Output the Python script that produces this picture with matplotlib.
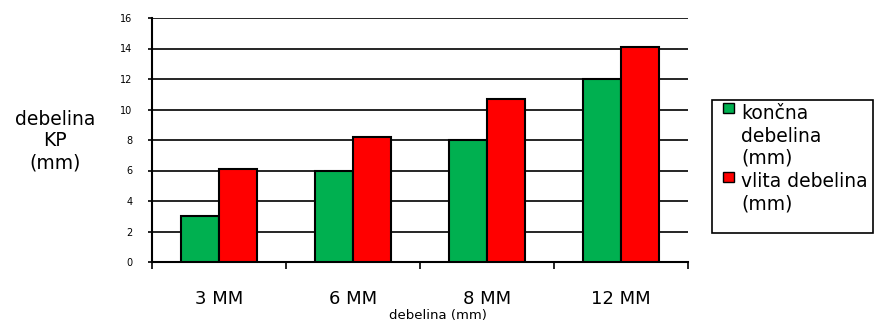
import numpy as np
import matplotlib.pyplot as plt
from matplotlib.patches import Rectangle

plt.rcParams['font.family'] = ['DejaVu Sans']

categories = ["3 MM", "6 MM", "8 MM", "12 MM"]
koncna = [3, 6, 8, 12]
vlita = [6.1, 8.2, 10.7, 14.1]
colors = ['#00b050', '#ff0000']
legend_labels = ["končna\ndebelina\n(mm)", "vlita debelina\n(mm)"]

W, H = 875, 324
fig = plt.figure(figsize=(W / 100, H / 100), dpi=100)
ax = fig.add_axes([152 / W, 1 - 262 / H, 536 / W, 244 / H])

x = np.arange(len(categories))
w = 0.28
ax.bar(x - w/2, koncna, w, color=colors[0], edgecolor='black', linewidth=1.5, zorder=3)
ax.bar(x + w/2, vlita, w, color=colors[1], edgecolor='black', linewidth=1.5, zorder=3)

ax.set_xlim(-0.5, len(categories) - 0.5)
ax.set_ylim(0, 16)
ax.set_yticks(range(0, 17, 2))
ax.tick_params(axis='y', labelsize=7, length=3, width=1.2, direction='out', pad=11)
ax.set_xticks(x)
ax.set_xticklabels(categories, fontsize=13)
ax.set_xticks(np.arange(-0.5, len(categories), 1), minor=True)
ax.tick_params(axis='x', which='major', length=0, pad=20)
ax.tick_params(axis='x', which='minor', length=5, width=1.2)
ax.yaxis.grid(True, color='black', linewidth=1.2, zorder=0)

for s in ['top', 'right']:
    ax.spines[s].set_visible(False)
ax.spines['left'].set_linewidth(1.5)
ax.spines['bottom'].set_linewidth(1.5)

# axis titles
fig.text(438 / W, 1 - 316 / H, "debelina (mm)", ha='center', va='center', fontsize=9.5)
fig.text(55 / W, 1 - 141 / H, "debelina\nKP\n(mm)", ha='center', va='center',
         fontsize=13.5, linespacing=1.17)

# legend box drawn by hand (text wraps inside a fixed frame)
fig.patches.append(Rectangle((712 / W, 1 - 233 / H), 161 / W, 133 / H,
                             transform=fig.transFigure, facecolor='white',
                             edgecolor='black', linewidth=1.2))
marker_y = [108, 177]
block_y = [136, 193]
for lab, col, my, by in zip(legend_labels, colors, marker_y, block_y):
    fig.patches.append(Rectangle((723 / W, 1 - (my + 5) / H), 11 / W, 10 / H,
                                 transform=fig.transFigure, facecolor=col,
                                 edgecolor='black', linewidth=1.0))
    fig.text(741 / W, 1 - by / H, lab, ha='left', va='center', fontsize=13.5,
             linespacing=1.22)

plt.savefig("out.png", dpi=100)
